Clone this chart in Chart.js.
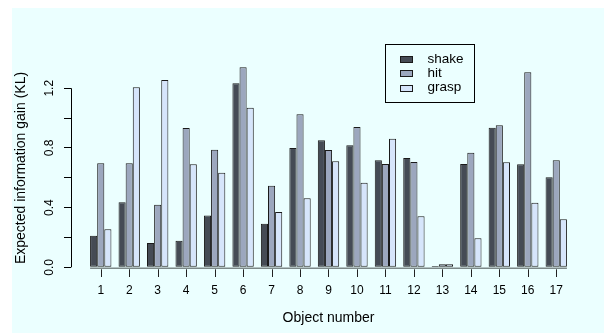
<!DOCTYPE html>
<html>
<head>
<meta charset="utf-8">
<script src="https://cdn.jsdelivr.net/npm/chart.js@4.4.1/dist/chart.umd.min.js"></script>
<style>
  html, body { margin: 0; padding: 0; background: #fff; }
  #wrap { position: relative; width: 604px; height: 333px; overflow: hidden; }
  #bg { position: absolute; left: 12px; top: 8px; right: 0; bottom: 0; background: #ebffff; }
  #chart { position: absolute; left: 0; top: 0; }
</style>
</head>
<body>
<div id="wrap">
  <div id="bg"></div>
  <canvas id="chart" width="604" height="333"></canvas>
</div>
<script>
const objects = [1, 2, 3, 4, 5, 6, 7, 8, 9, 10, 11, 12, 13, 14, 15, 16, 17];
const shake = [0.212, 0.436, 0.163, 0.178, 0.348, 1.233, 0.292, 0.80, 0.851, 0.818, 0.717, 0.733, 0.009, 0.692, 0.936, 0.69, 0.603];
const hit = [0.697, 0.697, 0.42, 0.934, 0.788, 1.34, 0.547, 1.025, 0.786, 0.94, 0.692, 0.706, 0.02, 0.768, 0.952, 1.307, 0.717];
const grasp = [0.255, 1.206, 1.255, 0.69, 0.634, 1.07, 0.371, 0.462, 0.71, 0.567, 0.862, 0.342, 0.02, 0.194, 0.704, 0.433, 0.322];
const yTicks = [0, 0.2, 0.4, 0.6, 0.8, 1.0, 1.2];
const yLabelTicks = [0, 0.4, 0.8, 1.2];

const FONT = "'Liberation Sans', Arial, Helvetica, sans-serif";
const GROUP = 0.75; // share of one slot taken by the three bars

// bits of the R axes that chart.js does not draw itself
const rAxes = {
  id: "rAxes",
  afterDatasetsDraw(chart) {
    const { ctx, chartArea, scales: { x, y } } = chart;
    const y0 = y.getPixelForValue(0);
    ctx.save();
    ctx.strokeStyle = "#7c8888";
    ctx.lineWidth = 1.6;
    ctx.beginPath();
    ctx.moveTo(x.getPixelForValue(objects[0] - GROUP / 2), y0 + 1);
    ctx.lineTo(x.getPixelForValue(objects[objects.length - 1] + GROUP / 2), y0 + 1);
    ctx.stroke();

    ctx.strokeStyle = "#000";
    ctx.lineWidth = 1;
    const ax = Math.round(chartArea.left) + 0.5;
    ctx.beginPath();
    ctx.moveTo(ax, y.getPixelForValue(yTicks[0]));
    ctx.lineTo(ax, y.getPixelForValue(yTicks[yTicks.length - 1]));
    ctx.stroke();

    ctx.strokeStyle = "#222";
    objects.forEach((o) => {
      const px = Math.round(x.getPixelForValue(o)) + 0.5;
      ctx.beginPath();
      ctx.moveTo(px, y0 + 2);
      ctx.lineTo(px, chartArea.bottom);
      ctx.stroke();
    });
    ctx.restore();
  },
};

// boxed legend inside the plot, like legend("topright", ...)
const legendBox = {
  id: "legendBox",
  afterDraw(chart) {
    const { ctx } = chart;
    const left = 385, top = 44, w = 89, h = 58, rowH = 14.4, firstRow = 58.8;
    ctx.save();
    ctx.strokeStyle = "#000";
    ctx.lineWidth = 1;
    ctx.strokeRect(left + 0.5, top + 0.5, w, h);
    ctx.font = "13.5px " + FONT;
    ctx.textBaseline = "middle";
    ctx.textAlign = "left";
    chart.data.datasets.forEach((ds, i) => {
      const cy = firstRow + i * rowH;
      ctx.fillStyle = ds.backgroundColor;
      ctx.fillRect(400.5, Math.round(cy - 3) + 0.5, 12, 6);
      ctx.strokeStyle = "#1a1a1a";
      ctx.strokeRect(400.5, Math.round(cy - 3) + 0.5, 12, 6);
      ctx.fillStyle = "#000";
      ctx.fillText(ds.label, 427.5, cy);
    });
    ctx.restore();
  },
};

const ctx = document.getElementById("chart").getContext("2d");

new Chart(ctx, {
  type: "bar",
  data: {
    labels: objects,
    datasets: [
      { label: "shake", data: shake, backgroundColor: "#454b55" },
      { label: "hit", data: hit, backgroundColor: "#9ca7be" },
      { label: "grasp", data: grasp, backgroundColor: "#d6e5fb" },
    ].map((ds) => ({
      ...ds,
      borderColor: "#1a1a1a",
      borderWidth: 1,
      borderSkipped: false,
      categoryPercentage: GROUP,
      barPercentage: 1,
    })),
  },
  options: {
    responsive: false,
    animation: false,
    layout: { padding: { left: 0, top: 59, right: 18, bottom: 0 } },
    plugins: {
      legend: { display: false },
      tooltip: { enabled: false },
    },
    scales: {
      x: {
        type: "linear",
        min: -0.045,
        max: 18.045,
        offset: false,
        bounds: "data",
        afterBuildTicks: (scale) => {
          scale.ticks = objects.map((v) => ({ value: v }));
        },
        afterFit: (scale) => {
          scale.height = 56;
        },
        grid: { display: false, drawTicks: false, offset: false },
        border: { display: false },
        ticks: {
          autoSkip: false,
          maxRotation: 0,
          padding: 6,
          color: "#000",
          font: { family: FONT, size: 12 },
          callback: (v) => String(v),
        },
        title: {
          display: true,
          text: "Object number",
          color: "#000",
          font: { family: FONT, size: 14 },
          padding: { top: 0, bottom: 6 },
        },
      },
      y: {
        min: -0.065,
        max: 1.396,
        bounds: "data",
        afterBuildTicks: (scale) => {
          scale.ticks = yTicks.map((v) => ({ value: v }));
        },
        afterFit: (scale) => {
          scale.width = 71;
        },
        grid: {
          display: true,
          drawOnChartArea: false,
          drawTicks: true,
          tickLength: 7,
          color: "#000",
          lineWidth: 1,
        },
        border: { display: false },
        ticks: {
          autoSkip: false,
          minRotation: 90,
          maxRotation: 90,
          crossAlign: "center",
          padding: 6,
          color: "#000",
          font: { family: FONT, size: 12 },
          callback: (v) => (yLabelTicks.some((t) => Math.abs(t - v) < 1e-9) ? v.toFixed(1) : ""),
        },
        title: {
          display: true,
          text: "Expected information gain (KL)",
          color: "#000",
          font: { family: FONT, size: 14 },
          padding: { top: 13, bottom: 0 },
        },
      },
    },
  },
  plugins: [rAxes, legendBox],
});
</script>
</body>
</html>
